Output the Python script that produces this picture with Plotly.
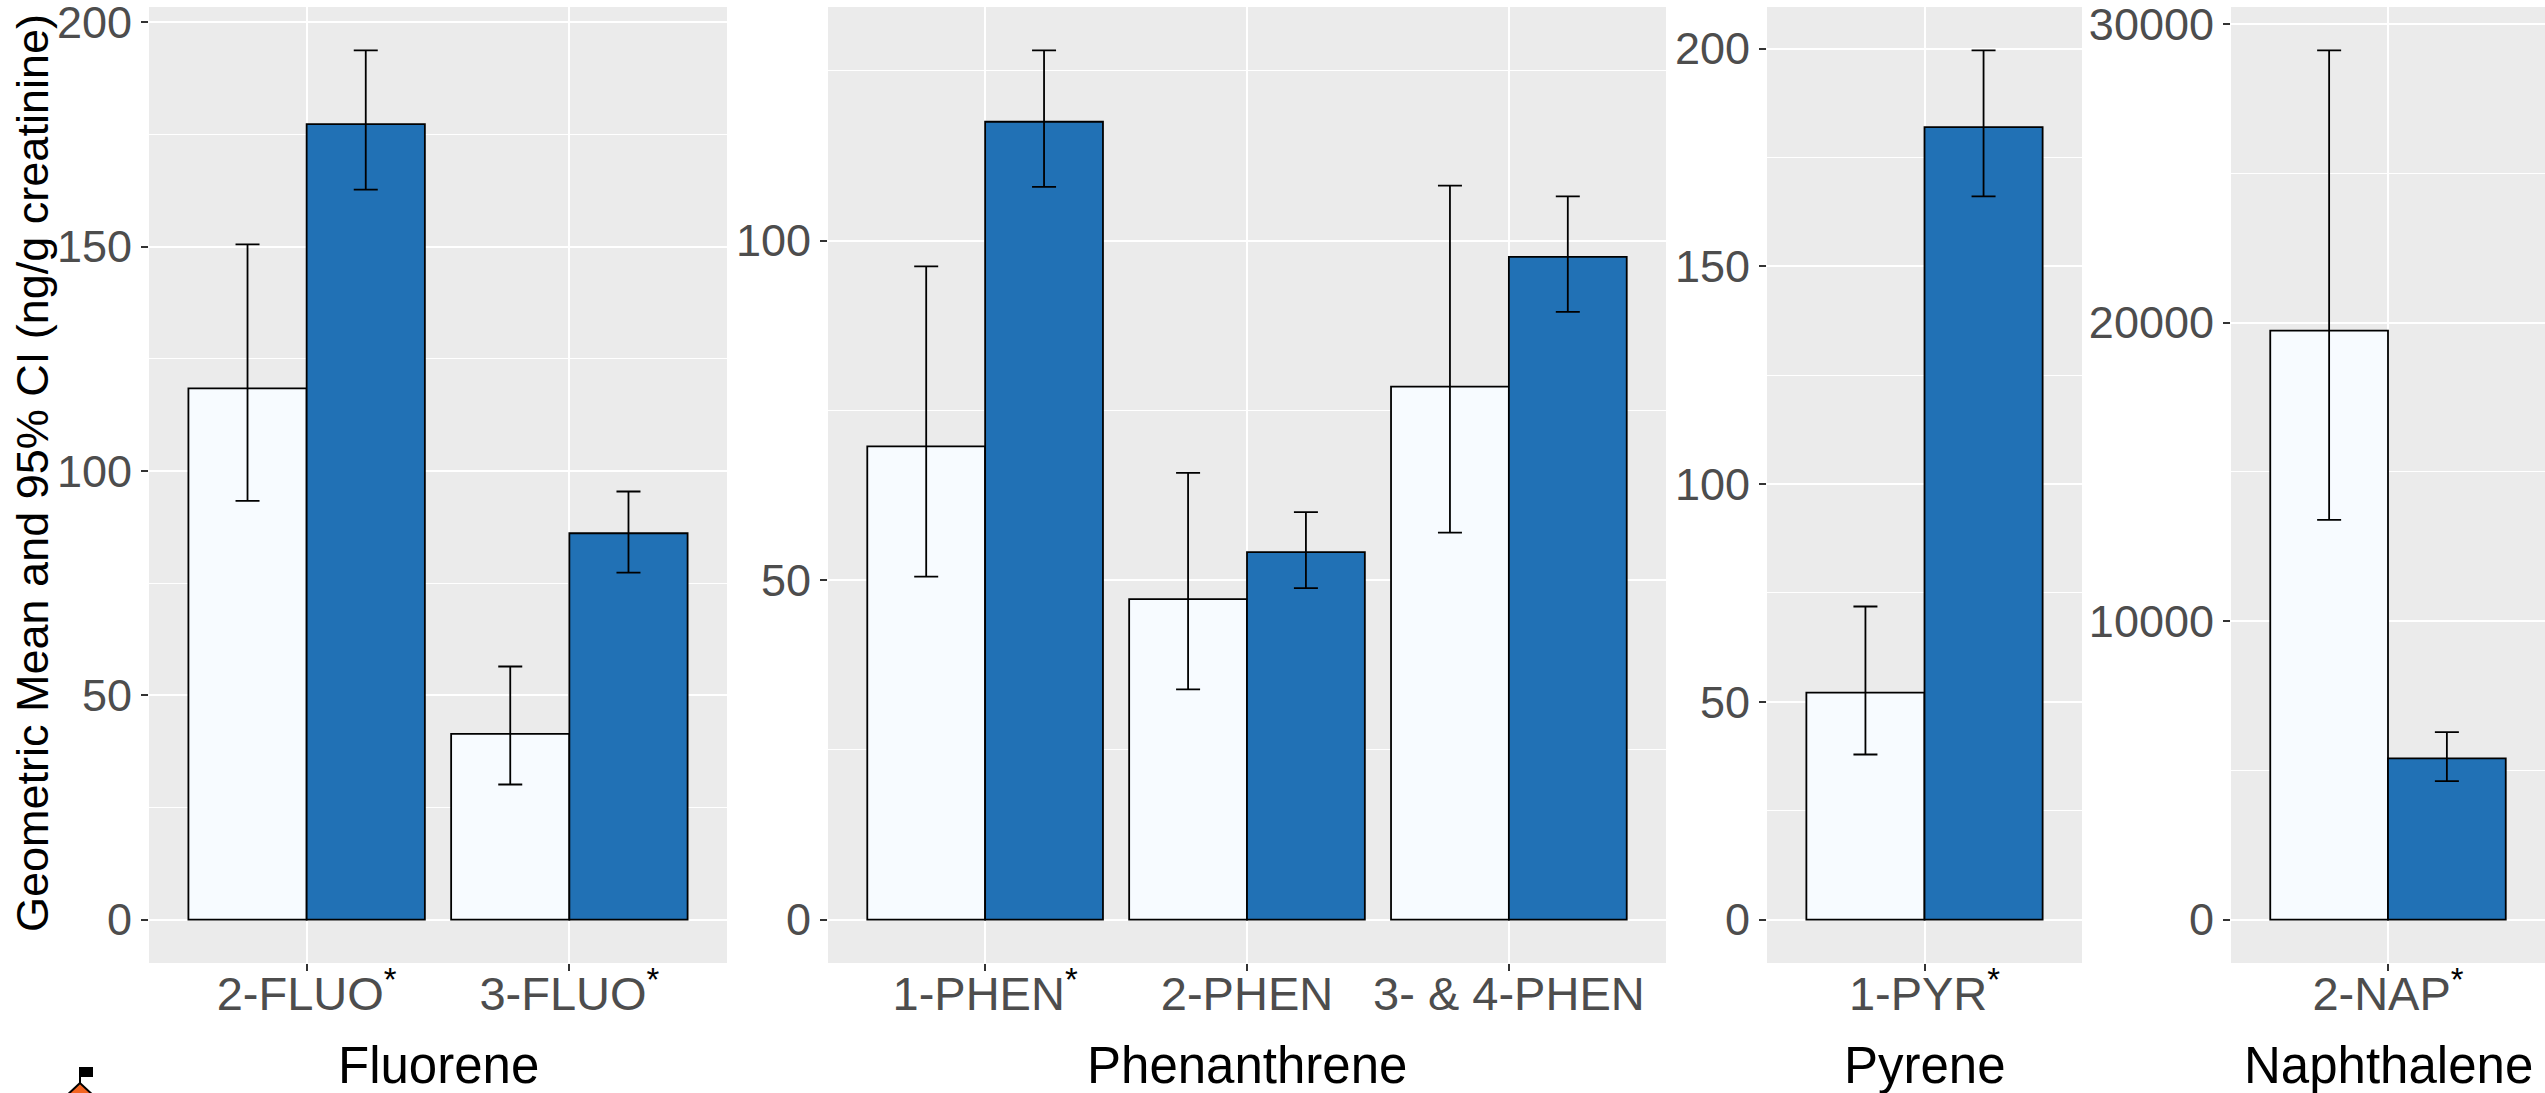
import plotly.graph_objects as go

# ---------------- data ----------------
groups = ["Group A", "Group B"]
colors = ["#F7FBFF", "#2171B5"]

panel_titles = ["Fluorene", "Phenanthrene", "Pyrene", "Naphthalene"]

fluo_labels = ["2-FLUO*", "3-FLUO*"]
fluo_mean_a = [118.4, 41.4]
fluo_lo_a = [93.3, 30.1]
fluo_hi_a = [150.5, 56.4]
fluo_mean_b = [177.3, 86.1]
fluo_lo_b = [162.7, 77.3]
fluo_hi_b = [193.7, 95.4]

phen_labels = ["1-PHEN*", "2-PHEN", "3- & 4-PHEN"]
phen_mean_a = [69.7, 47.2, 78.5]
phen_lo_a = [50.5, 33.9, 57.0]
phen_hi_a = [96.2, 65.8, 108.1]
phen_mean_b = [117.5, 54.1, 97.6]
phen_lo_b = [107.9, 48.8, 89.5]
phen_hi_b = [128.0, 60.0, 106.5]

pyr_labels = ["1-PYR*"]
pyr_mean_a = [52.1]
pyr_lo_a = [37.9]
pyr_hi_a = [71.9]
pyr_mean_b = [182.0]
pyr_lo_b = [166.1]
pyr_hi_b = [199.6]

nap_labels = ["2-NAP*"]
nap_mean_a = [19730]
nap_lo_a = [13390]
nap_hi_a = [29120]
nap_mean_b = [5400]
nap_lo_b = [4640]
nap_hi_b = [6280]

y_dticks = [50, 50, 50, 10000]

panels = [
    (fluo_labels, [(fluo_mean_a, fluo_lo_a, fluo_hi_a), (fluo_mean_b, fluo_lo_b, fluo_hi_b)]),
    (phen_labels, [(phen_mean_a, phen_lo_a, phen_hi_a), (phen_mean_b, phen_lo_b, phen_hi_b)]),
    (pyr_labels, [(pyr_mean_a, pyr_lo_a, pyr_hi_a), (pyr_mean_b, pyr_lo_b, pyr_hi_b)]),
    (nap_labels, [(nap_mean_a, nap_lo_a, nap_hi_a), (nap_mean_b, nap_lo_b, nap_hi_b)]),
]

# ---------------- layout geometry (pixels) ----------------
W, H = 2545, 1093
panel_x = [(149, 727), (828, 1666), (1767, 2082), (2231, 2545)]
panel_top, panel_bottom = 7, 963

FONT = "Liberation Sans, Arial, sans-serif"
TICK_COLOR = "#4D4D4D"


def fmt_label(s):
    if s.endswith("*"):
        return s[:-1] + "<span style='color:#000000'><sup>*</sup></span>"
    return s


def px(x):
    return x / W


def py(y):
    return (H - y) / H


fig = go.Figure()
layout = {}
for i, (labels, series) in enumerate(panels):
    n = i + 1
    xa = "x" if n == 1 else f"x{n}"
    ya = "y" if n == 1 else f"y{n}"
    xs = list(range(len(labels)))
    for g, (mean, lo, hi) in enumerate(series):
        fig.add_trace(go.Bar(
            x=xs, y=mean, xaxis=xa, yaxis=ya,
            name=groups[g], showlegend=False,
            marker=dict(color=colors[g], line=dict(color="#000000", width=1.8)),
            error_y=dict(type="data", symmetric=False,
                         array=[h - m for h, m in zip(hi, mean)],
                         arrayminus=[m - l for m, l in zip(mean, lo)],
                         color="#000000", thickness=1.8, width=12),
        ))
    ymax = max(max(s[2]) for s in series)
    x0, x1 = panel_x[i]
    dt = y_dticks[i]
    key_x = "xaxis" if n == 1 else f"xaxis{n}"
    key_y = "yaxis" if n == 1 else f"yaxis{n}"
    layout[key_x] = dict(
        domain=[x0 / W, x1 / W], anchor=ya,
        range=[-0.6, len(labels) - 0.4],
        tickvals=xs, ticktext=[fmt_label(s) for s in labels],
        showgrid=True, gridcolor="white", gridwidth=2.2,
        zeroline=False, showline=False,
        ticks="outside", ticklen=7, tickwidth=1.5, tickcolor="#333333",
        tickfont=dict(family=FONT, size=47, color=TICK_COLOR),
        ticklabelstandoff=-17, ticklabeloverflow="allow",
        automargin=False, fixedrange=True,
    )
    layout[key_y] = dict(
        domain=[(H - panel_bottom) / H, (H - panel_top) / H], anchor=xa,
        range=[-0.05 * ymax, 1.05 * ymax],
        dtick=dt, tick0=0, tickformat="d",
        showgrid=True, gridcolor="white", gridwidth=2.2,
        minor=dict(dtick=dt / 2, tick0=0, showgrid=True, gridcolor="white", gridwidth=1.1),
        zeroline=False, showline=False,
        ticks="outside", ticklen=7, tickwidth=1.5, tickcolor="#333333",
        tickfont=dict(family=FONT, size=45, color=TICK_COLOR),
        ticklabeloverflow="allow",
        automargin=False, fixedrange=True,
    )
    fig.add_annotation(
        text=panel_titles[i], xref="paper", yref="paper",
        x=px((x0 + x1) / 2), y=py(1065), xanchor="center", yanchor="middle",
        showarrow=False, font=dict(family=FONT, size=51, color="#000000"),
    )

fig.update_layout(
    width=W, height=H,
    margin=dict(l=0, r=0, t=0, b=0, autoexpand=False),
    paper_bgcolor="white", plot_bgcolor="#EBEBEB",
    barmode="group", bargap=0.1, bargroupgap=0,
    showlegend=False,
    font=dict(family=FONT),
    **layout,
)

fig.add_annotation(
    text="Geometric Mean and 95% CI (ng/g creatinine)",
    xref="paper", yref="paper", x=px(33), y=py(473),
    xanchor="center", yanchor="middle", textangle=-90, showarrow=False,
    font=dict(family=FONT, size=45, color="#000000"),
)

# small logo at the bottom-left (mountain with flag)
fig.add_shape(type="path", xref="paper", yref="paper",
              path=f"M {px(80)} {py(1083)} L {px(64)} {py(1098)} L {px(96)} {py(1098)} Z",
              fillcolor="#F26522", line=dict(color="#000000", width=2))
fig.add_shape(type="line", xref="paper", yref="paper",
              x0=px(80), y0=py(1083), x1=px(80), y1=py(1067),
              line=dict(color="#000000", width=2))
fig.add_shape(type="rect", xref="paper", yref="paper",
              x0=px(80), y0=py(1067), x1=px(93), y1=py(1077),
              fillcolor="#000000", line=dict(color="#000000", width=0))

fig.write_html(
    "out.html",
    config={"displayModeBar": False},
    post_script="document.body.style.margin='0';document.body.style.overflow='hidden';",
)
